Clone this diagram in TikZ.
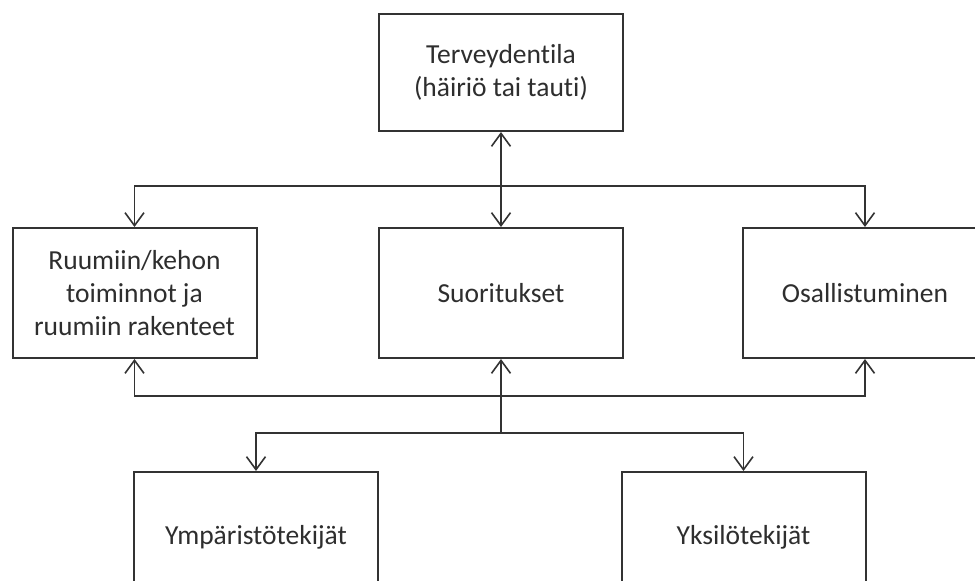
\documentclass[tikz,border=0pt]{standalone}
\usepackage{fontspec}
\setmainfont[Ligatures=NoCommon]{Carlito}
\usetikzlibrary{arrows.meta}
\definecolor{ink}{HTML}{333333}
\definecolor{txt}{HTML}{2E2E2E}
\begin{document}
\begin{tikzpicture}[x=1pt,y=-1pt,
  box/.style={draw=ink, line width=2pt, fill=white, minimum width=244pt, minimum height=130pt,
    align=center, text=txt, font=\fontsize{27.5}{33}\selectfont, inner sep=0pt},
  conn/.style={draw=ink, line width=1.6pt},
  tip/.style={-{Straight Barb[length=13pt,width=19pt,line width=1.6pt]}},
  tips/.style={{Straight Barb[length=13pt,width=19pt,line width=1.6pt]}-{Straight Barb[length=13pt,width=19pt,line width=1.6pt]}}
]
\useasboundingbox (0,0) rectangle (975,581);
\begin{scope}
\clip (0,0) rectangle (975,581);
\node[box, minimum height=117pt] (top) at (501,72.5) {Terveydentila\\(häiriö tai tauti)};
\node[box] (left) at (134.5,293) {Ruumiin/kehon\\toiminnot ja\\ruumiin rakenteet};
\node[box] (mid) at (501,293) {Suoritukset};
\node[box] (right) at (865,293) {Osallistuminen};
\node[box] (env) at (256,537) {Ympäristötekijät};
\node[box] (pers) at (743.5,537) {Yksilötekijät};

\coordinate (hj) at (501,186);
\coordinate (bj) at (501,396);
\coordinate (fj) at (501,433);

\draw[conn, tips] (top.south) -- (mid.north);
\draw[conn, tip] (hj) -| (left.north);
\draw[conn, tip] (hj) -| (right.north);
\draw[conn, tip] (bj) -| (left.south);
\draw[conn, tip] (bj) -| (right.south);
\draw[conn, tip] (fj) -- (mid.south);
\draw[conn, tip] (fj) -| (env.north);
\draw[conn, tip] (fj) -| (pers.north);
\end{scope}
\end{tikzpicture}
\end{document}
